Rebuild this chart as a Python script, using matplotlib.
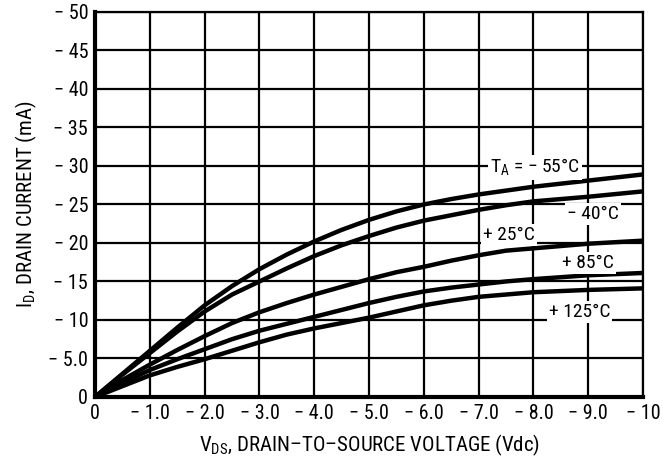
import matplotlib.pyplot as plt

plt.rcParams['font.family'] = ['Roboto Condensed', 'Archivo Narrow', 'DejaVu Sans']
plt.rcParams['mathtext.fontset'] = 'custom'
plt.rcParams['mathtext.rm'] = 'Roboto Condensed'

# drain-source voltage (Vdc)
vds = [0, -0.5, -1.0, -1.5, -2.0, -2.5, -3.0, -3.5, -4.0, -4.5, -5.0, -5.5, -6.0,
       -6.5, -7.0, -7.5, -8.0, -9.0, -10.0]

# drain current (mA) for each ambient temperature
id_m55 = [0, -3.0, -6.0, -9.0, -11.9, -14.4, -16.6, -18.5, -20.2, -21.7, -23.0, -24.1,
          -25.0, -25.7, -26.3, -26.8, -27.3, -28.1, -28.9]
id_m40 = [0, -2.9, -5.7, -8.5, -11.1, -13.3, -15.0, -16.7, -18.3, -19.7, -20.9, -22.0,
          -22.9, -23.6, -24.3, -24.9, -25.4, -26.0, -26.7]
id_p25 = [0, -2.2, -4.2, -6.1, -7.9, -9.6, -11.0, -12.2, -13.3, -14.3, -15.3, -16.2,
          -16.9, -17.7, -18.4, -19.0, -19.3, -19.9, -20.3]
id_p85 = [0, -1.8, -3.5, -4.9, -6.2, -7.5, -8.6, -9.5, -10.4, -11.3, -12.2, -13.0,
          -13.7, -14.2, -14.6, -15.0, -15.3, -15.8, -16.1]
id_p125 = [0, -1.4, -2.8, -3.9, -4.9, -6.0, -7.1, -8.1, -8.9, -9.6, -10.3, -11.1,
           -11.9, -12.5, -13.0, -13.3, -13.6, -13.9, -14.1]

xticks = [0, -1, -2, -3, -4, -5, -6, -7, -8, -9, -10]
xticklabels = ['0', '\u2212 1.0', '\u2212 2.0', '\u2212 3.0', '\u2212 4.0', '\u2212 5.0',
               '\u2212 6.0', '\u2212 7.0', '\u2212 8.0', '\u2212 9.0', '\u2212 10']
yticks = [0, -5, -10, -15, -20, -25, -30, -35, -40, -45, -50]
yticklabels = ['0', '\u2212 5.0', '\u2212 10', '\u2212 15', '\u2212 20', '\u2212 25',
               '\u2212 30', '\u2212 35', '\u2212 40', '\u2212 45', '\u2212 50']

fig = plt.figure(figsize=(6.65, 4.61), dpi=100)
ax = fig.add_axes([0.143, 0.139, 0.824, 0.835])

for ys in [id_m55, id_m40, id_p25, id_p85, id_p125]:
    ax.plot(vds, ys, color='black', lw=3.2, solid_capstyle='round',
            solid_joinstyle='round', zorder=3)

ax.set_xlim(0, -10)
ax.set_ylim(0, -50)
ax.set_xticks(xticks)
ax.set_xticklabels(xticklabels)
ax.set_yticks(yticks)
ax.set_yticklabels(yticklabels)
ax.tick_params(length=0, labelsize=14.5, pad=5)
ax.grid(True, color='black', lw=1.6)
ax.set_axisbelow(True)
for s in ax.spines.values():
    s.set_linewidth(1.6)
ax.spines['left'].set_linewidth(3)
ax.spines['bottom'].set_linewidth(3)

ax.set_xlabel('V$_\\mathregular{DS}$, DRAIN\u2013TO\u2013SOURCE VOLTAGE (Vdc)', fontsize=15, labelpad=7)
ax.set_ylabel('I$_\\mathregular{D}$, DRAIN CURRENT (mA)', fontsize=15, labelpad=7)

box = dict(facecolor='white', edgecolor='none', pad=1.5)
ax.text(-8.03, -29.8, 'T$_\\mathregular{A}$ = \u2212 55\u00b0C', fontsize=14, ha='center', va='center', bbox=box, zorder=4)
ax.text(-9.09, -23.8, '\u2212 40\u00b0C', fontsize=14, ha='center', va='center', bbox=box, zorder=4)
ax.text(-7.56, -21.0, '+ 25\u00b0C', fontsize=14, ha='center', va='center', bbox=box, zorder=4)
ax.text(-9.0, -17.4, '+ 85\u00b0C', fontsize=14, ha='center', va='center', bbox=box, zorder=4)
ax.text(-8.84, -11.0, '+ 125\u00b0C', fontsize=14, ha='center', va='center', bbox=box, zorder=4)

fig.savefig('out.png', dpi=100)
